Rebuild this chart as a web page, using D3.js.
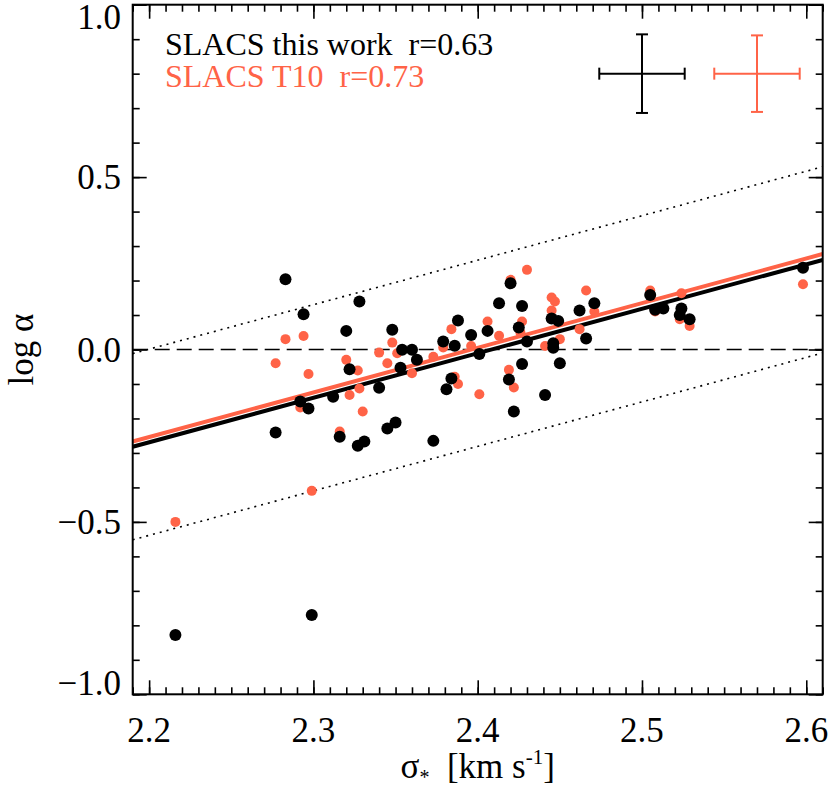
<!DOCTYPE html>
<html>
<head>
<meta charset="utf-8">
<script src="https://cdn.jsdelivr.net/npm/d3@7"></script>
<style>
    body { margin: 0; background: #fff; }
</style>
</head>
<body>
<script>
// SLACS this work (black)
const blackSigma = [2.216, 2.283, 2.294, 2.328, 2.320, 2.348, 2.354, 2.360, 2.363, 2.353,
    2.322, 2.340, 2.312, 2.292, 2.297, 2.277, 2.316, 2.327, 2.331, 2.345,
    2.350, 2.299, 2.373, 2.379, 2.386, 2.388, 2.396, 2.384, 2.381, 2.401,
    2.406, 2.413, 2.420, 2.427, 2.425, 2.430, 2.427, 2.419, 2.422, 2.441,
    2.445, 2.449, 2.446, 2.446, 2.450, 2.462, 2.466, 2.471, 2.505, 2.508,
    2.513, 2.523, 2.524, 2.529, 2.598];
const blackAlpha = [-0.828, 0.204, 0.102, 0.139, 0.054, 0.057, -0.001, -0.001, -0.030, -0.053,
    -0.057, -0.111, -0.137, -0.151, -0.171, -0.241, -0.253, -0.279, -0.267, -0.229,
    -0.212, -0.770, -0.265, 0.023, 0.011, 0.084, 0.042, -0.084, -0.115, -0.013,
    0.054, 0.134, 0.192, 0.126, 0.064, 0.023, -0.042, -0.087, -0.180, -0.132,
    0.090, 0.083, 0.018, 0.005, -0.040, 0.113, 0.032, 0.134, 0.158, 0.115,
    0.119, 0.100, 0.119, 0.088, 0.237];

// SLACS T10 (orange)
const redSigma = [2.216, 2.299, 2.283, 2.294, 2.277, 2.297, 2.292, 2.320, 2.327, 2.322,
    2.328, 2.330, 2.316, 2.340, 2.345, 2.348, 2.351, 2.360, 2.373, 2.379,
    2.384, 2.386, 2.388, 2.396, 2.401, 2.406, 2.413, 2.420, 2.430, 2.427,
    2.426, 2.419, 2.422, 2.441, 2.445, 2.447, 2.445, 2.450, 2.462, 2.466,
    2.471, 2.505, 2.508, 2.523, 2.524, 2.529, 2.598];
const redAlpha = [-0.500, -0.410, 0.030, 0.039, -0.040, -0.071, -0.168, -0.030, -0.061, -0.132,
    -0.113, -0.180, -0.238, -0.009, -0.040, 0.020, -0.011, -0.069, -0.021, 0.006,
    0.059, -0.079, -0.100, 0.010, -0.130, 0.081, 0.040, 0.202, 0.231, 0.081,
    0.049, -0.059, -0.110, 0.010, 0.151, 0.139, 0.113, 0.030, 0.059, 0.171,
    0.110, 0.171, 0.110, 0.088, 0.163, 0.068, 0.189];

// fits: logα = a + b (σ - 2.4)
const blackFit = [-0.011, 1.29];
const redFit = [0.005, 1.295];
const scatterBand = 0.27;

// typical error bars
const errSigma = [2.5, 2.57];
const errAlpha = [0.8, 0.8];
const errDx = [0.026, 0.026];
const errDy = [0.114, 0.111];

const legendLabels = ["SLACS this work  r=0.63", "SLACS T10  r=0.73"];
const xTickValues = [2.2, 2.3, 2.4, 2.5, 2.6];
const yTickValues = [-1.0, -0.5, 0.0, 0.5, 1.0];

const width = 830, height = 789;
const margin = { top: 4.7, right: 7.3, bottom: 94.7, left: 132.7 };
const orange = "#ff6347";
const serif = "'Liberation Serif', 'Times New Roman', Times, 'DejaVu Serif', serif";

const svg = d3.select("body").append("svg")
    .attr("width", width)
    .attr("height", height)
    .attr("font-family", serif)
    .style("font-family", serif);

const x = d3.scaleLinear().domain([2.19, 2.61]).range([margin.left, width - margin.right]);
const y = d3.scaleLinear().domain([-1, 1]).range([height - margin.bottom, margin.top]);

svg.append("defs").append("clipPath").attr("id", "clip")
    .append("rect")
    .attr("x", x(2.19)).attr("y", y(1))
    .attr("width", x(2.61) - x(2.19)).attr("height", y(-1) - y(1));

const plot = svg.append("g").attr("clip-path", "url(#clip)");

// zero line
plot.append("line")
    .attr("x1", x(2.19)).attr("x2", x(2.61))
    .attr("y1", y(0)).attr("y2", y(0))
    .attr("stroke", "#000").attr("stroke-width", 1.6)
    .attr("stroke-dasharray", "15,7");

const fitLine = (fit, off) => d3.line()
    .x(d => x(d))
    .y(d => y(fit[0] + fit[1] * (d - 2.4) + off));

// dotted scatter band
[scatterBand, -scatterBand].forEach(off => {
    plot.append("path")
        .attr("d", fitLine(blackFit, off)([2.19, 2.61]))
        .attr("fill", "none").attr("stroke", "#000")
        .attr("stroke-width", 1.6).attr("stroke-dasharray", "2,5");
});

// fit lines
plot.append("path")
    .attr("d", fitLine(redFit, 0)([2.19, 2.61]))
    .attr("fill", "none").attr("stroke", orange).attr("stroke-width", 4);
plot.append("path")
    .attr("d", fitLine(blackFit, 0)([2.19, 2.61]))
    .attr("fill", "none").attr("stroke", "#000").attr("stroke-width", 4);

// points
plot.append("g").selectAll("circle")
    .data(d3.zip(redSigma, redAlpha))
    .join("circle")
    .attr("cx", d => x(d[0])).attr("cy", d => y(d[1]))
    .attr("r", 5).attr("fill", orange);

plot.append("g").selectAll("circle")
    .data(d3.zip(blackSigma, blackAlpha))
    .join("circle")
    .attr("cx", d => x(d[0])).attr("cy", d => y(d[1]))
    .attr("r", 6).attr("fill", "#000");

// error bar crosses
const cap = 6;
errSigma.forEach((s, i) => {
    const g = svg.append("g")
        .attr("stroke", i === 0 ? "#000" : orange)
        .attr("stroke-width", 2);
    const cx = x(s), cy = y(errAlpha[i]);
    const x0 = x(s - errDx[i]), x1 = x(s + errDx[i]);
    const y0 = y(errAlpha[i] + errDy[i]), y1 = y(errAlpha[i] - errDy[i]);
    g.append("line").attr("x1", x0).attr("x2", x1).attr("y1", cy).attr("y2", cy);
    g.append("line").attr("x1", cx).attr("x2", cx).attr("y1", y0).attr("y2", y1);
    g.append("line").attr("x1", x0).attr("x2", x0).attr("y1", cy - cap).attr("y2", cy + cap);
    g.append("line").attr("x1", x1).attr("x2", x1).attr("y1", cy - cap).attr("y2", cy + cap);
    g.append("line").attr("x1", cx - cap).attr("x2", cx + cap).attr("y1", y0).attr("y2", y0);
    g.append("line").attr("x1", cx - cap).attr("x2", cx + cap).attr("y1", y1).attr("y2", y1);
});

// legend text
svg.append("g").selectAll("text")
    .data(legendLabels)
    .join("text")
    .attr("x", 165)
    .attr("y", (d, i) => 55 + i * 32)
    .attr("font-size", 32)
    .attr("fill", (d, i) => i === 0 ? "#000" : orange)
    .style("white-space", "pre")
    .text(d => d);

// axes with inward ticks
const xMinor = x.ticks(40), yMinor = y.ticks(20);
function tickAxis(axisFn, scale, values, size, transform) {
    svg.append("g")
        .attr("transform", transform)
        .call(axisFn(scale).tickValues(values).tickSize(-size).tickFormat(""))
        .call(g => g.select(".domain").remove())
        .call(g => g.selectAll("line").attr("stroke-width", 1.6));
}
tickAxis(d3.axisBottom, x, xMinor, 7, `translate(0,${y(-1)})`);
tickAxis(d3.axisBottom, x, xTickValues, 14, `translate(0,${y(-1)})`);
tickAxis(d3.axisTop, x, xMinor, 7, `translate(0,${y(1)})`);
tickAxis(d3.axisTop, x, xTickValues, 14, `translate(0,${y(1)})`);
tickAxis(d3.axisLeft, y, yMinor, 7, `translate(${x(2.19)},0)`);
tickAxis(d3.axisLeft, y, yTickValues, 14, `translate(${x(2.19)},0)`);
tickAxis(d3.axisRight, y, yMinor, 7, `translate(${x(2.61)},0)`);
tickAxis(d3.axisRight, y, yTickValues, 14, `translate(${x(2.61)},0)`);

// frame
svg.append("rect")
    .attr("x", x(2.19)).attr("y", y(1))
    .attr("width", x(2.61) - x(2.19)).attr("height", y(-1) - y(1))
    .attr("fill", "none").attr("stroke", "#000").attr("stroke-width", 2);

// tick labels
const fmt = v => d3.format(".1f")(v).replace("-", "\u2212");
svg.append("g").selectAll("text")
    .data(xTickValues)
    .join("text")
    .attr("x", d => x(d))
    .attr("y", 742)
    .attr("text-anchor", "middle")
    .attr("font-size", 35)
    .text(fmt);

svg.append("g").selectAll("text")
    .data(yTickValues)
    .join("text")
    .attr("x", 121)
    .attr("y", d => Math.min(Math.max(y(d), 17), 683))
    .attr("dy", "0.35em")
    .attr("text-anchor", "end")
    .attr("font-size", 35)
    .text(fmt);

// axis titles
svg.append("text")
    .attr("transform", `translate(22,${y(0)}) rotate(-90)`)
    .attr("text-anchor", "middle")
    .attr("dy", "0.3em")
    .attr("font-size", 35)
    .text("log \u03b1");

const xt = svg.append("text")
    .attr("x", (x(2.19) + x(2.61)) / 2)
    .attr("y", 778)
    .attr("text-anchor", "middle")
    .attr("font-size", 35)
    .style("white-space", "pre");
xt.append("tspan").text("\u03c3");
xt.append("tspan").attr("font-size", 20).attr("dy", 6).text("*");
xt.append("tspan").attr("dy", -6).text("  [km s");
xt.append("tspan").attr("font-size", 21).attr("dy", -14).text("-1");
xt.append("tspan").attr("dy", 14).text("]");
</script>
</body>
</html>
